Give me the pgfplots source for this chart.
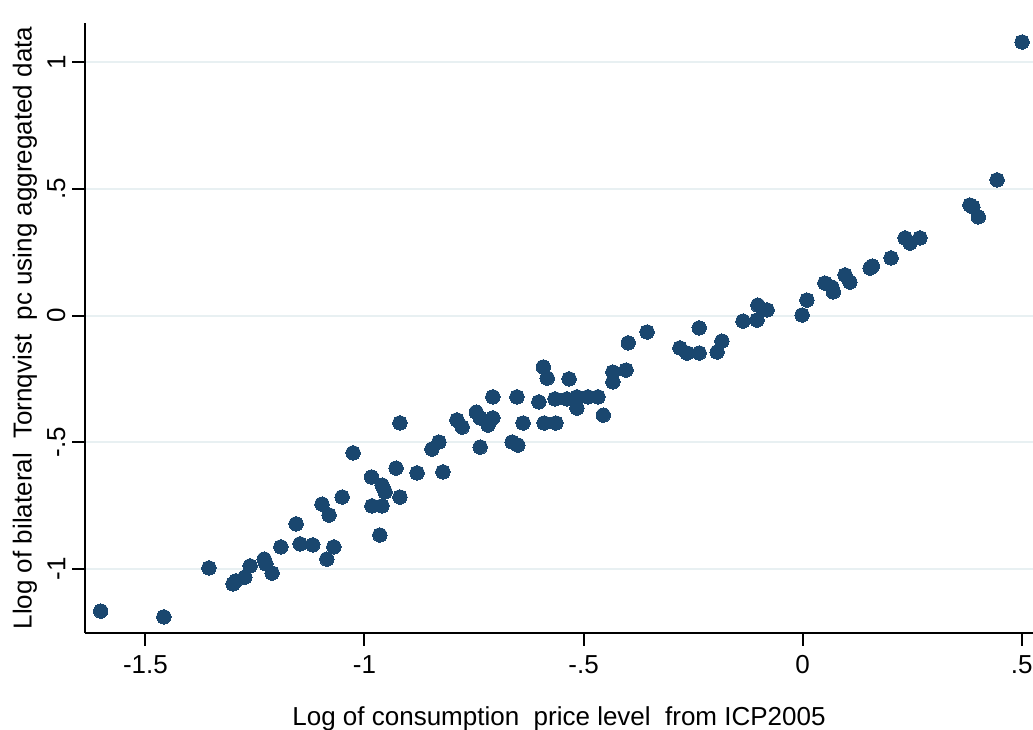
\documentclass[border=0pt]{standalone}
\usepackage{fontspec}
\setmainfont{Liberation Sans}
\usepackage{pgfplots}
\pgfplotsset{compat=1.18}
\definecolor{markc}{RGB}{26,71,111}
\definecolor{gridc}{RGB}{232,240,242}
\begin{document}
\begin{tikzpicture}
\useasboundingbox (0,0) rectangle (516.5pt,364.5pt);
\begin{axis}[
  at={(42.5pt,48pt)}, anchor=south west,
  scale only axis, width=474pt, height=305pt,
  xmin=-1.638, xmax=0.526, ymin=-1.2525, ymax=1.154,
  axis x line*=bottom, axis y line*=left,
  axis line style={-, line width=1pt, black},
  xtick={-1.5,-1,-0.5,0,0.5}, xticklabels={-1.5,-1,-.5,0,.5},
  ytick={-1,-0.5,0,0.5,1}, yticklabels={-1,-.5,0,.5,1},
  tick align=outside, major tick length=6.3pt,
  tick style={black, line width=1pt},
  /pgf/number format/assume math mode=true,
  ticklabel style={font=\fontsize{13}{15}\selectfont},
  xticklabel style={yshift=-1.5pt},
  yticklabel style={rotate=90, anchor=south},
  ymajorgrids, grid style={gridc, line width=1pt},
  xlabel={Log of consumption\ \ price level\ \ from ICP2005},
  ylabel={Llog of bilateral\ \ Tornqvist\ \ pc using aggregated data},
  label style={font=\fontsize{13}{15}\selectfont},
  xlabel style={at={(axis description cs:0.5,0)}, anchor=center, yshift=-43pt},
  ylabel style={at={(axis description cs:0,0.5)}, anchor=center, yshift=30pt},
  clip=false,
]
\addplot[only marks, color=markc, mark=*, mark size=3.6pt, mark options={solid, draw=markc, fill=markc, line width=0pt}] coordinates {
(-1.602,-1.166) (-1.458,-1.189) (-1.355,-0.996) (-1.300,-1.059) (-1.294,-1.047)
(-1.273,-1.032) (-1.261,-0.988) (-1.229,-0.961) (-1.225,-0.980) (-1.211,-1.016)
(-1.191,-0.913) (-1.156,-0.822) (-1.147,-0.901) (-1.118,-0.905) (-1.086,-0.961)
(-1.070,-0.913) (-1.097,-0.744) (-1.081,-0.787) (-1.051,-0.716) (-1.026,-0.542)
(-0.984,-0.637) (-0.983,-0.751) (-0.960,-0.751) (-0.960,-0.669) (-0.953,-0.696)
(-0.965,-0.866) (-0.928,-0.602) (-0.919,-0.716) (-0.919,-0.424) (-0.880,-0.621)
(-0.821,-0.617) (-0.846,-0.527) (-0.830,-0.499) (-0.789,-0.412) (-0.777,-0.440)
(-0.745,-0.381) (-0.736,-0.404) (-0.736,-0.519) (-0.718,-0.432) (-0.707,-0.404)
(-0.707,-0.321) (-0.663,-0.499) (-0.650,-0.511) (-0.652,-0.321) (-0.638,-0.424)
(-0.602,-0.341) (-0.592,-0.203) (-0.583,-0.247) (-0.590,-0.424) (-0.563,-0.424)
(-0.565,-0.329) (-0.538,-0.329) (-0.515,-0.321) (-0.490,-0.321) (-0.467,-0.321)
(-0.533,-0.250) (-0.515,-0.365) (-0.455,-0.393) (-0.433,-0.223) (-0.433,-0.262)
(-0.403,-0.215) (-0.398,-0.108) (-0.355,-0.065) (-0.280,-0.128) (-0.264,-0.148)
(-0.236,-0.148) (-0.236,-0.049) (-0.195,-0.144) (-0.184,-0.101) (-0.136,-0.022)
(-0.104,-0.018) (-0.102,0.041) (-0.081,0.022) (-0.001,0.002) (0.010,0.061)
(0.051,0.128) (0.067,0.112) (0.070,0.093) (0.097,0.160) (0.108,0.132)
(0.154,0.187) (0.159,0.195) (0.202,0.227) (0.234,0.306) (0.245,0.286)
(0.268,0.306) (0.382,0.436) (0.389,0.428) (0.401,0.389) (0.444,0.535)
(0.501,1.079)
};
\end{axis}
\end{tikzpicture}
\end{document}
